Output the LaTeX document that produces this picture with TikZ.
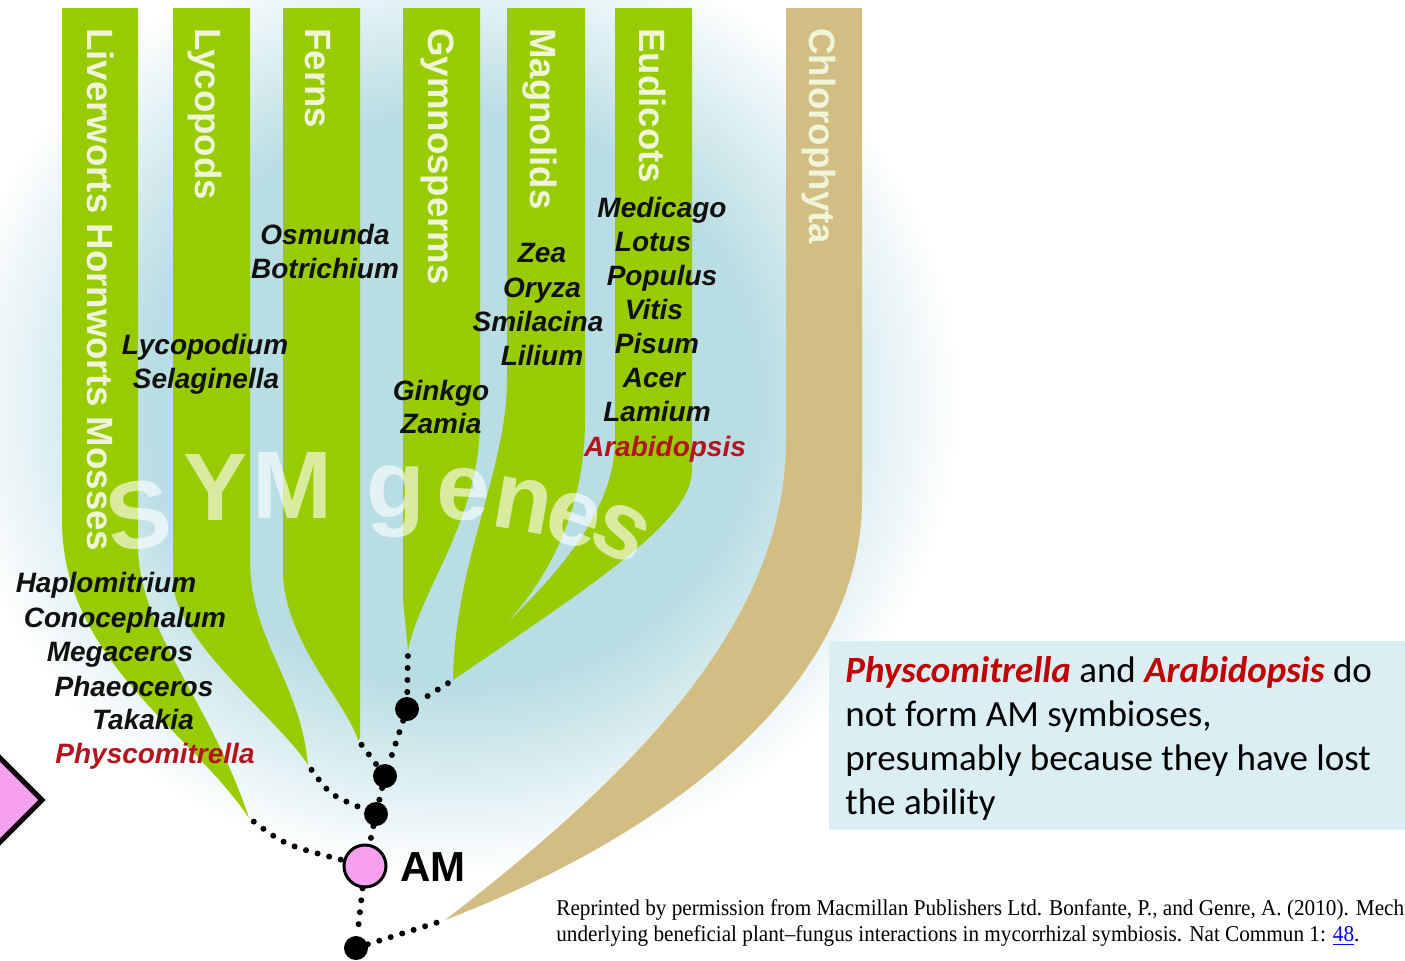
\documentclass[tikz,border=0pt]{standalone}
\usepackage{fontspec}
\setmainfont{Liberation Sans}
\newfontfamily\carl{Carlito}
\newfontfamily\tms{Liberation Serif}
\usetikzlibrary{shapes.geometric}
\definecolor{brgreen}{HTML}{99CC00}
\definecolor{brtan}{HTML}{D2BE82}
\definecolor{bgblue}{HTML}{B8DDE3}
\definecolor{boxblue}{HTML}{DAEEF3}
\definecolor{pinkfill}{HTML}{F8A0F0}
\definecolor{spred}{HTML}{B3141E}
\definecolor{boxred}{HTML}{C00000}
\definecolor{pale}{HTML}{F0F5D8}
\definecolor{linkblue}{HTML}{0000EE}
\definecolor{spblack}{HTML}{111111}
\pgfdeclareradialshading{glow}{\pgfpoint{0bp}{0bp}}{color(0bp)=(bgblue); color(15bp)=(bgblue); color(25bp)=(white); color(50bp)=(white)}
\tikzset{
 clade/.style={font=\fontsize{18.3}{20}\selectfont\bfseries, text=pale, rotate=-90, anchor=base west, inner sep=0pt},
 sp/.style={font=\fontsize{14}{16}\selectfont\bfseries\itshape, text=spblack, anchor=base, inner sep=0pt},
 spr/.style={sp, text=spred},
 sym/.style={font=\fontsize{48}{50}\selectfont\bfseries, text=white, text opacity=0.62, anchor=base, inner sep=0pt},
 dotline/.style={line width=3pt, dash pattern=on 0pt off 6pt, line cap=round, black},
 knot/.style={circle, fill=black, minimum size=12pt, inner sep=0pt},
 amnode/.style={circle, draw=black, line width=1.5pt, fill=pinkfill, minimum size=21pt, inner sep=0pt},
}
\begin{document}
\begin{tikzpicture}[x=0.5pt,y=-0.5pt]
\useasboundingbox (0,0) rectangle (1405,960);
\clip (0,0) rectangle (1405,960);
\fill[white] (0,0) rectangle (1405,960);
\shade[shading=glow] (455,400) ellipse [x radius=505, y radius=475];

% Chlorophyta
\fill[brtan] (786,8) -- (862,8) -- (862,500) .. controls (862,680) and (680,830) .. (445,920) .. controls (640,770) and (786,620) .. (786,440) -- cycle;
% Liverworts
\fill[brgreen] (62,8) -- (138,8) -- (138,545) .. controls (138,630) and (210,700) .. (249,818) .. controls (190,730) and (62,660) .. (62,520) -- cycle;
% Lycopods
\fill[brgreen] (173,8) -- (250,8) -- (250,560) .. controls (250,640) and (300,680) .. (308,765) .. controls (280,720) and (173,640) .. (173,580) -- cycle;
% Ferns
\fill[brgreen] (283,8) -- (360,8) -- (360,738) -- (358,740) .. controls (345,700) and (283,640) .. (283,570) -- cycle;
% Gymnosperms
\fill[brgreen] (403,8) -- (480,8) -- (480,420) .. controls (480,520) and (420,590) .. (408,650) -- (403,600) -- cycle;
% Magnolids + Eudicots
\fill[brgreen] (507,8) -- (585,8) -- (585,420) .. controls (585,520) and (540,590) .. (498,632) .. controls (540,590) and (615,520) .. (615,440) -- (615,8) -- (692,8) -- (692,470) .. controls (692,520) and (600,580) .. (453,680) .. controls (455,560) and (507,470) .. (507,380) -- cycle;

% SYM genes watermark
\node[sym, rotate=8] (sy1) at (143,548) {S};
\node[sym] (sy2) at (216,520) {Y};
\node[sym] (sy3) at (292,518) {M};
\node[sym] (sy4) at (396,517) {g};
\node[sym, rotate=-3] (sy5) at (462,520) {e};
\node[sym, rotate=-10] (sy6) at (518,531) {n};
\node[sym, rotate=-18] (sy7) at (566,544) {e};
\node[sym, rotate=-28] (sy8) at (609,555) {s};

% clade labels
\node[clade] (lLiv) at (87,28) {Liverworts Hornworts Mosses};
\node[clade] (lLyc) at (195,28) {Lycopods};
\node[clade] (lFer) at (305,28) {Ferns};
\node[clade] (lGym) at (428,28) {Gymnosperms};
\node[clade] (lMag) at (530,28) {Magnolids};
\node[clade] (lEud) at (639,28) {Eudicots};
\node[clade] (lChl) at (809,28) {Chlorophyta};

% species
\node[sp] (s1) at (106,592) {Haplomitrium};
\node[sp] (s2) at (125,627) {Conocephalum};
\node[sp] (s3) at (120,661) {Megaceros};
\node[sp] (s4) at (134,696) {Phaeoceros};
\node[sp] (s5) at (143,729) {Takakia};
\node[spr] (s6) at (155,763) {Physcomitrella};
\node[sp] (s7) at (205,354) {Lycopodium};
\node[sp] (s8) at (206,388) {Selaginella};
\node[sp] (s9) at (325,244) {Osmunda};
\node[sp] (s10) at (325,278) {Botrichium};
\node[sp] (s11) at (441,400) {Ginkgo};
\node[sp] (s12) at (441,433) {Zamia};
\node[sp] (s13) at (542,262) {Zea};
\node[sp] (s14) at (542,297) {Oryza};
\node[sp] (s15) at (538,331) {Smilacina};
\node[sp] (s16) at (542,365) {Lilium};
\node[sp] (s17) at (662,217) {Medicago};
\node[sp] (s18) at (653,251) {Lotus};
\node[sp] (s19) at (662,285) {Populus};
\node[sp] (s20) at (654,319) {Vitis};
\node[sp] (s21) at (657,353) {Pisum};
\node[sp] (s22) at (654,387) {Acer};
\node[sp] (s23) at (657,421) {Lamium};
\node[spr] (s24) at (665,456) {Arabidopsis};

% tips
\coordinate (tLiv) at (249,818);
\coordinate (tLyc) at (308,765);
\coordinate (tFer) at (358,740);
\coordinate (tGym) at (408,650);
\coordinate (tAng) at (453,680);
\coordinate (tChl) at (445,920);

% tree nodes
\node[knot] (n1) at (407,709) {};
\node[knot] (n2) at (385,776) {};
\node[knot] (n3) at (376,814) {};
\node[amnode] (am) at (365,866) {};
\node[knot] (n4) at (356,948) {};
\node[font=\fontsize{21}{22}\selectfont\bfseries, anchor=base west, inner sep=0pt] (amlab) at (400,881) {AM};

% connectors
\draw[dotline, shorten <=3pt] (tGym) -- (n1);
\draw[dotline, shorten <=3pt] (tAng) -- (n1);
\draw[dotline] (n1) -- (n2);
\draw[dotline, shorten <=3pt] (tFer) -- (n2);
\draw[dotline] (n2) -- (n3);
\draw[dotline, shorten <=3pt] (tLyc) .. controls (330,795) .. (n3);
\draw[dotline] (n3) -- (am);
\draw[dotline, shorten <=3pt] (tLiv) .. controls (285,845) .. (am);
\draw[dotline] (am) -- (n4);
\draw[dotline, shorten >=3pt] (n4) -- (tChl);

% diamond at left edge
\draw[line width=2.5pt, fill=pinkfill] (42,800) -- (-20,738) -- (-82,800) -- (-20,862) -- cycle;

% note box
\node[fill=boxblue, anchor=north west, minimum width=288pt, minimum height=94.5pt, inner sep=0pt] (notebox) at (829,641) {};
\node[anchor=north west, align=left, inner sep=0pt, font=\carl\fontsize{18.5}{22}\selectfont] (note) at (845,656) {\textcolor{boxred}{\textbf{\textit{Physcomitrella}}} and \textcolor{boxred}{\textbf{\textit{Arabidopsis}}} do\\not form AM symbioses,\\presumably because they have lost\\the ability};

% credit
\node[anchor=north west, align=left, inner sep=0pt, xscale=0.938, font=\tms\fontsize{11.3}{13}\selectfont] (credit) at (556,899) {Reprinted by permission from Macmillan Publishers Ltd. Bonfante, P., and Genre, A. (2010). Mech\\underlying beneficial plant–fungus interactions in mycorrhizal symbiosis. Nat Commun 1: \textcolor{linkblue}{\underline{48}}.};
\end{tikzpicture}
\end{document}
